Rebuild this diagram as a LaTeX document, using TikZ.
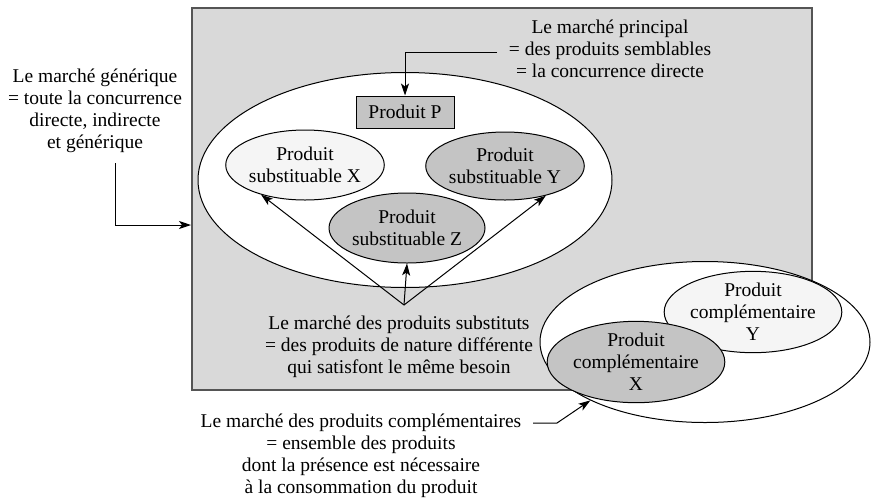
\documentclass[tikz,border=0pt]{standalone}
\usepackage{fontspec}
\setmainfont{Liberation Serif}
\usetikzlibrary{shapes.geometric,arrows.meta}
\definecolor{fondgris}{HTML}{D9D9D9}
\definecolor{grismoyen}{HTML}{C4C4C4}
\definecolor{grisclair}{HTML}{F5F5F5}
\definecolor{bordgris}{HTML}{555555}
\tikzset{
  texte/.style={align=center,inner sep=0pt,font=\fontsize{19.5}{22}\selectfont},
  produit/.style={ellipse,draw,line width=1pt,inner sep=0pt,align=center,font=\fontsize{19.5}{22}\selectfont},
  fleche/.style={line width=1pt,-{Stealth[length=12pt,width=8pt,inset=3pt]}}
}
\begin{document}
\begin{tikzpicture}[x=1pt,y=-1pt]
  \useasboundingbox (0,0) rectangle (875,499);
  % marche generique
  \node[draw=bordgris,line width=1.6pt,fill=fondgris,minimum width=620pt,minimum height=382pt,inner sep=0pt] (generique) at (502,199) {};
  \node[ellipse,draw,line width=1pt,fill=white,minimum width=414pt,minimum height=215pt] (principal) at (405,180) {};
  \node[draw,line width=1pt,fill=grismoyen,minimum width=98pt,minimum height=32pt,inner sep=0pt,font=\fontsize{19.5}{22}\selectfont] (prodP) at (405,112) {Produit P};
  \node[produit,fill=grisclair,minimum width=157pt,minimum height=70pt] (subX) at (305,165) {Produit\\substituable X};
  \node[produit,fill=grismoyen,minimum width=156pt,minimum height=68pt] (subY) at (505,166) {Produit\\substituable Y};
  \node[produit,fill=grismoyen,minimum width=156pt,minimum height=70pt] (subZ) at (407,228) {Produit\\substituable Z};
  % marche complementaire
  \node[ellipse,draw,line width=1pt,fill=white,minimum width=330pt,minimum height=161pt] (complement) at (705,342) {};
  \node[produit,fill=grisclair,minimum width=157pt,minimum height=69pt] (compY) at (753,312) {Produit\\compl\'ementaire\\Y};
  \node[produit,fill=grismoyen,minimum width=158pt,minimum height=72pt] (compX) at (636,362) {Produit\\compl\'ementaire\\X};
  % textes
  \node[texte] (txtGen) at (95,111) {Le march\'e g\'en\'erique\\= toute la concurrence\\directe, indirecte\\et g\'en\'erique};
  \node[texte] (txtPrin) at (610,49) {Le march\'e principal\\= des produits semblables\\= la concurrence directe};
  \node[texte] (txtSub) at (399,347) {Le march\'e des produits substituts\\= des produits de nature diff\'erente\\qui satisfont le m\^eme besoin};
  \node[texte] (txtComp) at (361,456) {Le march\'e des produits compl\'ementaires\\= ensemble des produits\\dont la pr\'esence est n\'ecessaire\\\`a la consommation du produit};
  % fleches
  \coordinate (genDep) at (115,163);
  \coordinate (genArr) at (191,225);
  \draw[fleche] (genDep) |- (genArr);
  \coordinate (prinDep) at (497,52);
  \draw[fleche] (prinDep) -| (prodP.north);
  \coordinate (sommet) at (404,305);
  \draw[fleche] (sommet) -- (subX.214);
  \draw[fleche] (sommet) -- (subY.324);
  \draw[fleche] (sommet) -- (subZ.south);
  \coordinate (compDep) at (533,423);
  \coordinate (compCoude) at (557,423);
  \draw[fleche] (compDep) -- (compCoude) -- (complement.207);
\end{tikzpicture}
\end{document}
